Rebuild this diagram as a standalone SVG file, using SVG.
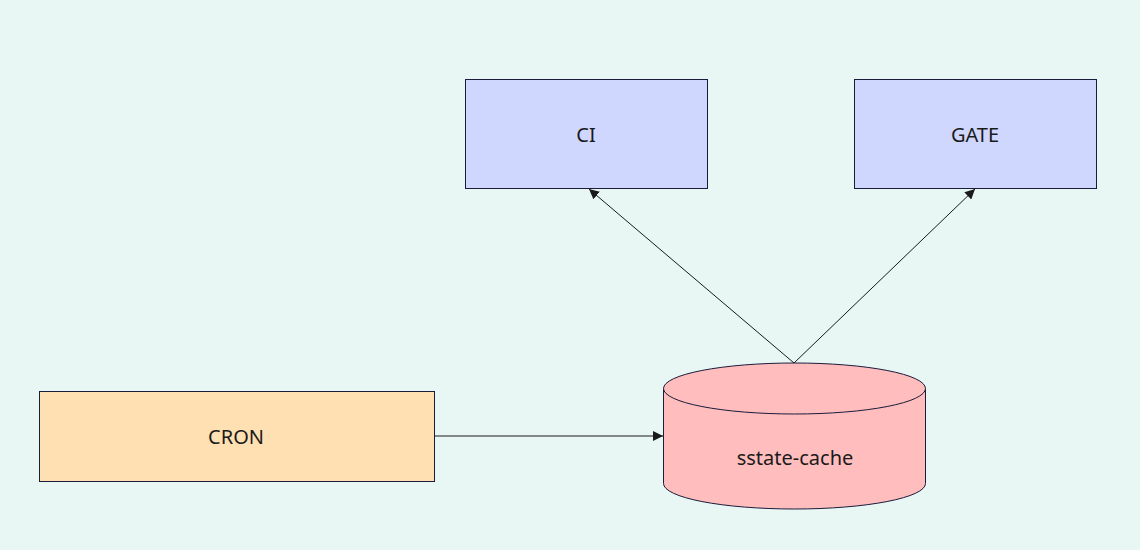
<svg xmlns="http://www.w3.org/2000/svg" width="1140" height="550" viewBox="0 0 1140 550">
<style>
.box{stroke:#1b1b3a;stroke-width:1}
.lbl{font-family:"Noto Sans","Open Sans",sans-serif;font-size:20px;fill:#1a1a1a;text-anchor:middle;dominant-baseline:central}
.edge{stroke:#1a1a1a;stroke-width:1;fill:none;marker-end:url(#arr)}
</style>
<defs>
<marker id="arr" viewBox="0 0 10 10" refX="10" refY="5" markerWidth="10" markerHeight="10" markerUnits="userSpaceOnUse" orient="auto">
<path d="M0,0 L10,5 L0,10 z" fill="#1a1a1a"/>
</marker>
</defs>
<rect width="1140" height="550" fill="#E8F7F4"/>
<g id="ci"><rect class="box" x="465.5" y="79.5" width="242" height="109" fill="#D0D7FF"/><text class="lbl" x="586" y="134">CI</text></g>
<g id="gate"><rect class="box" x="854.5" y="79.5" width="242" height="109" fill="#D0D7FF"/><text class="lbl" x="975" y="134">GATE</text></g>
<g id="cron"><rect class="box" x="39.5" y="391.5" width="395" height="90" fill="#FFE0B2"/><text class="lbl" x="236" y="436">CRON</text></g>
<g id="sstate">
<path class="box" d="M663.5,388.5 L663.5,483.5 A131,25.5 0 0 0 925.5,483.5 L925.5,388.5" fill="#FFBDBD"/>
<ellipse class="box" cx="794.5" cy="388.5" rx="131" ry="25.5" fill="#FFBDBD"/>
<text class="lbl" x="795" y="457">sstate-cache</text>
</g>
<g id="connectors">
<line class="edge" x1="794" y1="363" x2="589" y2="189"/>
<line class="edge" x1="794" y1="363" x2="975" y2="189"/>
<line class="edge" x1="435" y1="436" x2="663" y2="436"/>
</g>
</svg>
